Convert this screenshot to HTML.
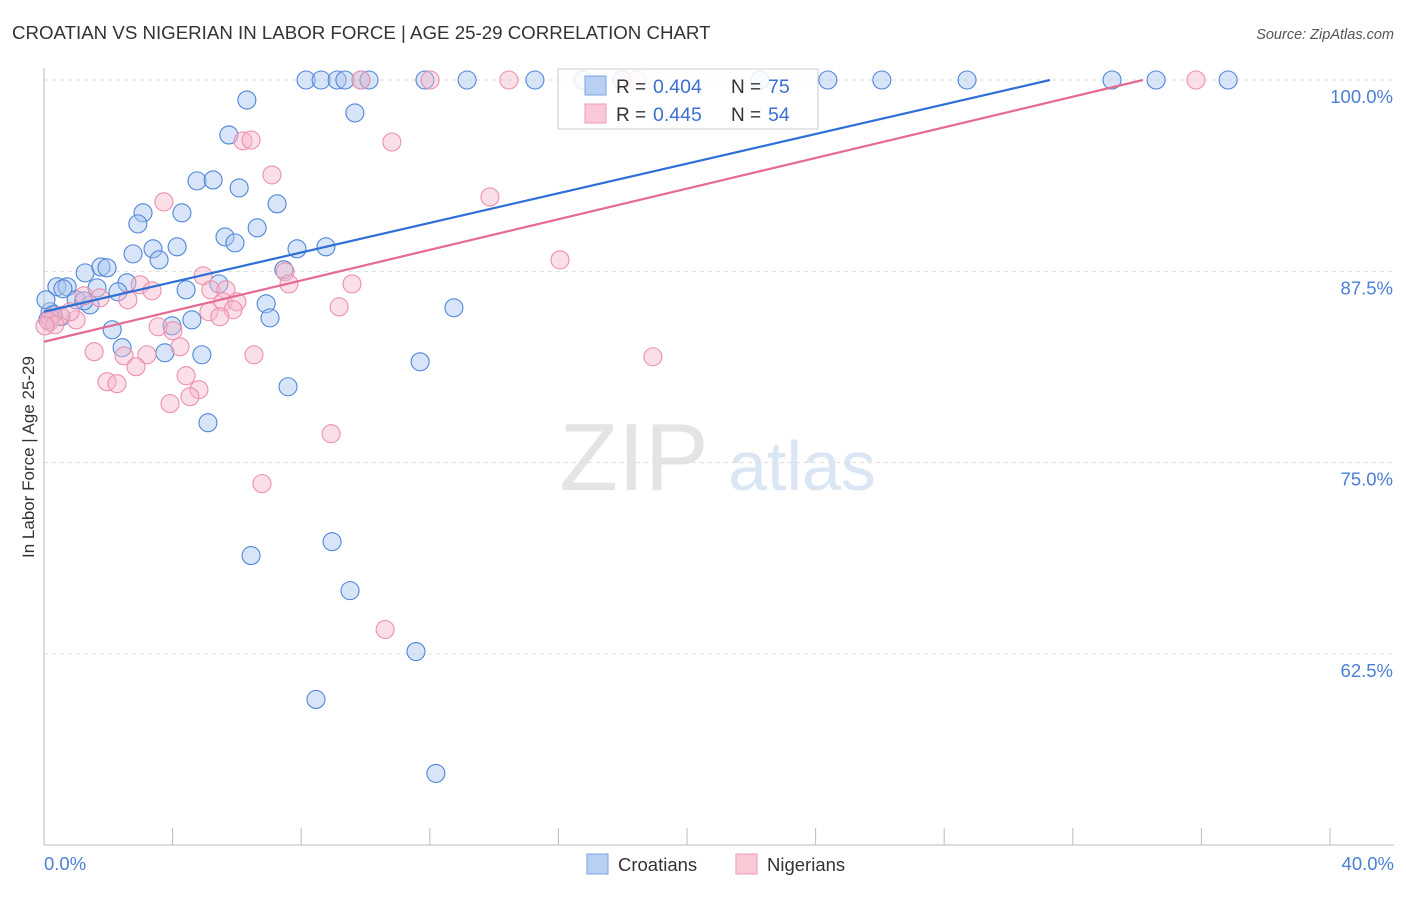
<!DOCTYPE html>
<html><head><meta charset="utf-8"><style>
body{margin:0;background:#fff;font-family:"Liberation Sans",sans-serif}
svg text{font-family:"Liberation Sans",sans-serif}
</style></head><body>
<svg id="chart" width="1406" height="892" xmlns="http://www.w3.org/2000/svg">
<text x="12" y="39" font-size="18.7" fill="#333">CROATIAN VS NIGERIAN IN LABOR FORCE | AGE 25-29 CORRELATION CHART</text>
<text x="1394" y="39" font-size="14.5" fill="#555" font-style="italic" text-anchor="end">Source: ZipAtlas.com</text>
<g>
<text x="634" y="490" font-size="96" fill="#e4e4e4" text-anchor="middle" font-family="Liberation Serif">ZIP</text>
<text x="802" y="490" font-size="70" fill="#dbe6f5" text-anchor="middle">atlas</text>
</g>
<g id="grid"></g>
<g id="axes"></g>
<g id="marks"></g>
<text transform="translate(34,457) rotate(-90)" font-size="17" fill="#333" text-anchor="middle">In Labor Force | Age 25-29</text>
<g>
<rect x="558" y="69" width="260" height="60" fill="#fff" fill-opacity="0.85" stroke="#ccc"/>
<rect x="585" y="76" width="21" height="19" fill="#b9d0f3" stroke="#7aa3e3"/>
<rect x="585" y="104" width="21" height="19" fill="#f9c9d7" stroke="#ee9ab3"/>
<text x="616" y="93" font-size="19" fill="#333">R =</text>
<text x="653" y="93" font-size="19.5" fill="#3b6fd0">0.404</text>
<text x="731" y="93" font-size="19" fill="#333">N =</text>
<text x="768" y="93" font-size="19.5" fill="#3b6fd0">75</text>
<text x="616" y="121" font-size="19" fill="#333">R =</text>
<text x="653" y="121" font-size="19.5" fill="#3b6fd0">0.445</text>
<text x="731" y="121" font-size="19" fill="#333">N =</text>
<text x="768" y="121" font-size="19.5" fill="#3b6fd0">54</text>
</g>
<g>
<rect x="587" y="854" width="21" height="20" fill="#b9d0f3" stroke="#7aa3e3"/>
<text x="618" y="871" font-size="18.5" fill="#333">Croatians</text>
<rect x="736" y="854" width="21" height="20" fill="#f9c9d7" stroke="#ee9ab3"/>
<text x="767" y="871" font-size="18.5" fill="#333">Nigerians</text>
</g>
</svg>
<script>
const yTicks=[100,87.5,75,62.5];
const yTickLabels=["100.0%","87.5%","75.0%","62.5%"];
const xTickVals=[0,4,8,12,16,20,24,28,32,36,40];
const xEndLabels=["0.0%","40.0%"];
const croX=[8.15,8.62,9.12,9.36,9.86,10.11,11.85,13.16,15.27,16.76,17.98,22.27,24.38,26.06,28.71,33.22,34.59,36.83,6.31,9.67,5.75,4.76,5.26,6.07,7.25,3.08,4.29,2.92,5.63,6.63,5.94,3.39,4.14,7.87,8.77,2.77,3.58,1.28,1.77,1.96,7.46,0.40,0.72,0.59,2.58,5.44,4.42,1.65,2.30,1.00,1.43,1.24,6.91,12.75,7.03,4.60,0.19,2.12,3.98,2.43,3.76,4.91,11.70,7.59,5.10,6.44,8.96,9.52,11.57,8.46,12.19,0.06,0.12,0.28,0.53];
const croY=[100,100,100,100,100,100,100,100,100,100,100,100,100,100,100,100,100,100,98.69,97.85,96.41,93.41,93.47,92.95,91.91,91.32,91.32,90.60,89.75,90.34,89.36,88.97,89.10,88.97,89.10,88.64,88.25,87.40,87.79,87.73,87.60,86.49,86.49,86.36,86.75,86.68,86.29,86.42,86.16,85.64,85.31,85.57,85.38,85.12,84.46,84.33,84.86,83.68,83.94,82.51,82.18,82.05,81.59,79.96,77.61,68.93,69.84,66.64,62.66,59.53,54.70,85.64,84.33,84.66,84.53];
const nigX=[9.86,12.01,14.46,18.44,35.83,6.19,6.44,10.82,7.09,13.87,3.73,16.05,4.95,7.50,7.62,9.58,2.99,3.36,5.19,5.66,5.57,6.00,1.24,2.61,9.18,5.13,5.88,5.47,1.00,0.50,0.16,3.55,4.01,1.56,2.49,4.23,3.20,6.53,18.94,2.86,4.42,1.96,2.27,4.82,4.54,3.92,8.93,6.78,10.61,0.19,0.34,0.81,0.03,1.74];
const nigY=[100,100,100,100,100,96.02,96.08,95.95,93.80,92.36,92.04,88.25,87.21,87.47,86.68,86.68,86.62,86.23,86.29,86.29,85.51,85.51,85.90,85.64,85.18,84.86,84.99,84.53,84.33,84.60,84.20,83.88,83.62,82.25,81.98,82.57,82.05,82.05,81.92,81.27,80.68,80.29,80.16,79.77,79.31,78.86,76.89,73.63,64.10,84.46,84.01,84.86,83.94,85.77];
const croTrendX=[0,31.29], croTrendY=[84.86,100];
const nigTrendX=[0,34.18], nigTrendY=[82.9,100];

const NS="http://www.w3.org/2000/svg";
const X0=44,X1=1330,Y100=80,Y625=654;
const sx=v=>X0+(v/40)*(X1-X0);
const sy=v=>Y100+(100-v)/37.5*(Y625-Y100);
function mk(tag,attrs,parent){const e=document.createElementNS(NS,tag);for(const k in attrs)e.setAttribute(k,attrs[k]);parent.appendChild(e);return e;}
const grid=document.getElementById('grid'),axes=document.getElementById('axes'),marks=document.getElementById('marks');
yTicks.forEach((t,i)=>{
 const l=mk('line',{x1:X0,x2:1394,y1:sy(t),y2:sy(t),stroke:'#ddd','stroke-dasharray':'4,4'},grid);
 
 
 const tx=mk('text',{x:1393,y:sy(t)+23,'font-size':18.5,fill:'#4a7fd4','text-anchor':'end'},axes);
 tx.textContent=yTickLabels[i];
 
 
});
const yl=mk('line',{x1:X0,x2:X0,y1:68,y2:845,stroke:'#bbb'},axes);


const xl=mk('line',{x1:X0,x2:1394,y1:845,y2:845,stroke:'#bbb'},axes);


xTickVals.forEach(v=>{
 const t=mk('line',{x1:sx(v),x2:sx(v),y1:828,y2:845,stroke:'#bbb'},axes);
 
 
});
const xa=mk('text',{x:44,y:870,'font-size':18.5,fill:'#4a7fd4'},axes);xa.textContent=xEndLabels[0];


const xb=mk('text',{x:1394,y:870,'font-size':18.5,fill:'#4a7fd4','text-anchor':'end'},axes);xb.textContent=xEndLabels[1];


croX.forEach((v,i)=>{
 const c=mk('circle',{cx:sx(v),cy:sy(croY[i]),r:9,fill:'#a9c6f0','fill-opacity':0.45,stroke:'#4f86d8','stroke-width':1.1},marks);
 
 
});
nigX.forEach((v,i)=>{
 const c=mk('circle',{cx:sx(v),cy:sy(nigY[i]),r:9,fill:'#f7b8cb','fill-opacity':0.45,stroke:'#ec8fac','stroke-width':1.1},marks);
 
 
});
const tb=mk('line',{x1:sx(croTrendX[0]),y1:sy(croTrendY[0]),x2:sx(croTrendX[1]),y2:sy(croTrendY[1]),stroke:'#2d6fd6','stroke-width':2.2},marks);


const tp=mk('line',{x1:sx(nigTrendX[0]),y1:sy(nigTrendY[0]),x2:sx(nigTrendX[1]),y2:sy(nigTrendY[1]),stroke:'#e56a93','stroke-width':2.2},marks);


</script>
</body></html>
